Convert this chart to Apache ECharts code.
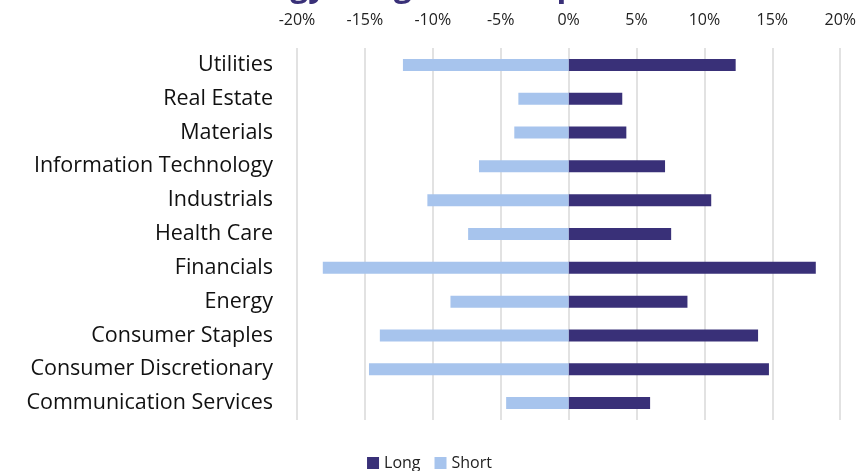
<!DOCTYPE html>
<html>
<head>
<meta charset="utf-8">
<script src="https://cdn.jsdelivr.net/npm/echarts@6/dist/echarts.min.js"></script>
<style>
  html, body { margin: 0; padding: 0; background: #fff; }
  #chart { width: 859px; height: 471px; }
</style>
</head>
<body>
<div id="chart"></div>
<script>
// sectors, bottom to top as ECharts draws a category y axis
const sectors = [
  'Communication Services',
  'Consumer Discretionary',
  'Consumer Staples',
  'Energy',
  'Financials',
  'Health Care',
  'Industrials',
  'Information Technology',
  'Materials',
  'Real Estate',
  'Utilities'
]
// percent values
const longValues = [6.0, 14.75, 13.95, 8.75, 18.2, 7.55, 10.5, 7.1, 4.25, 3.95, 12.3]
const shortValues = [-4.6, -14.7, -13.9, -8.7, -18.1, -7.4, -10.4, -6.6, -4.0, -3.7, -12.2]
const xTicks = { min: -20, max: 20, step: 5 }

const font = '"Open Sans", "Noto Sans", sans-serif'
const chart = echarts.init(document.getElementById('chart'))

chart.setOption({
  animation: false,
  textStyle: { fontFamily: font },
  title: {
    text: 'Strategy Long/Short Exposure',
    left: 'center',
    top: -34,
    textStyle: { color: '#393078', fontSize: 32, fontWeight: 'bold', fontFamily: font }
  },
  grid: { left: 297, right: 16, top: 48, bottom: 51 },
  legend: {
    data: ['Long', 'Short'],
    bottom: -5,
    left: 'center',
    itemWidth: 12,
    itemHeight: 12,
    itemGap: 14,
    icon: 'rect',
    textStyle: { fontSize: 16, color: '#222', fontFamily: font }
  },
  xAxis: {
    type: 'value',
    position: 'top',
    min: xTicks.min,
    max: xTicks.max,
    interval: xTicks.step,
    axisLine: { show: false },
    axisTick: { show: false },
    axisLabel: {
      formatter: v => v + '%',
      fontSize: 16,
      color: '#222',
      margin: 20
    },
    splitLine: { lineStyle: { color: '#d9d9d9', width: 1.5 } }
  },
  yAxis: {
    type: 'category',
    data: sectors,
    axisLine: { show: false },
    axisTick: { show: false },
    axisLabel: { fontSize: 21.5, color: '#111', margin: 24 }
  },
  series: [
    {
      name: 'Long',
      type: 'bar',
      stack: 'ls',
      data: longValues,
      barWidth: 12,
      itemStyle: { color: '#393078' }
    },
    {
      name: 'Short',
      type: 'bar',
      stack: 'ls',
      data: shortValues,
      barWidth: 12,
      itemStyle: { color: '#a7c4ed' }
    }
  ]
})
</script>
</body>
</html>
